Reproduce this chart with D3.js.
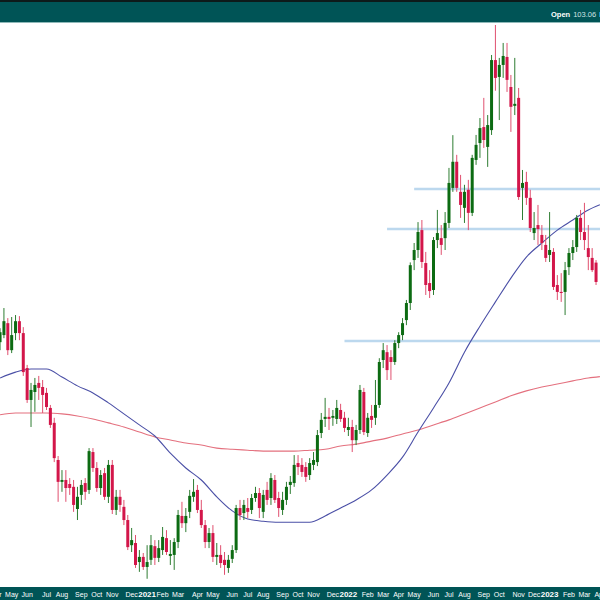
<!DOCTYPE html>
<html><head><meta charset="utf-8">
<script src="https://cdn.jsdelivr.net/npm/d3@7"></script>
<style>html,body{margin:0;padding:0;background:#fff;}svg{display:block;}</style>
</head><body>
<svg id="chart" width="600" height="600"></svg>
<script>
// Weekly candles, first week starting 2020-04-13
const firstWeek = "2020-04-13";
const opens = [99.41,99.73,100.27,99.05,99.82,100.36,99.82,98.25,96.84,97.19,97.59,97.41,97.15,96.49,95.84,94.24,93.31,93.39,93.22,93.10,92.17,92.76,93.26,92.97,94.58,93.90,93.05,93.68,92.68,94.03,92.13,92.68,92.26,91.71,90.67,90.76,89.98,90.19,89.78,90.07,90.63,90.15,90.47,90.96,90.23,90.27,90.80,91.88,91.58,92.05,92.68,92.97,92.13,91.50,90.80,91.17,90.19,90.27,90.07,89.74,90.11,90.47,92.21,92.00,92.21,92.13,92.63,92.84,92.05,92.97,92.63,93.39,92.63,92.13,92.55,93.18,93.26,94.11,94.03,93.94,93.60,94.03,94.15,95.40,96.01,96.10,96.06,96.01,96.40,96.06,95.53,95.66,95.09,95.53,97.19,95.40,96.14,96.06,96.62,98.61,98.96,98.74,98.52,99.37,99.73,100.41,101.19,103.18,103.65,104.59,103.04,102.11,101.79,104.12,104.21,104.21,104.93,106.61,107.88,106.42,105.65,106.52,105.41,107.97,108.80,109.59,108.61,109.44,112.97,112.11,112.72,113.13,111.60,110.65,111.05,106.61,106.90,106.13,104.45,104.83,104.36,103.89,103.42,103.56,102.02,101.70,101.70,102.85,103.51,103.79,105.17,104.50,103.74,103.28,103.06];
const highs = [100.04,100.96,100.50,100.55,100.64,100.59,100.09,98.39,97.59,97.81,97.90,97.72,97.37,96.62,96.06,94.41,93.81,93.81,93.47,93.39,93.10,93.39,93.47,94.75,94.75,94.15,93.81,93.90,94.24,94.24,92.97,92.97,92.55,91.92,91.38,91.09,90.47,90.35,90.67,91.09,90.88,90.88,91.42,91.29,90.88,90.96,92.13,92.47,92.21,92.97,93.43,93.18,92.55,91.71,91.38,91.50,90.76,90.67,90.39,90.27,90.67,92.34,92.55,92.55,92.63,92.80,93.10,93.05,92.97,93.31,93.68,93.60,92.89,92.89,93.31,93.56,94.45,94.45,94.32,94.15,94.32,94.58,95.53,96.27,96.93,96.49,96.40,96.84,96.67,96.32,96.06,95.97,95.75,97.50,97.37,96.27,96.62,97.72,98.69,99.37,99.28,99.05,99.50,99.86,100.50,101.33,103.07,103.98,104.97,105.07,103.56,102.71,104.26,105.55,104.83,105.45,107.58,109.19,108.22,107.24,106.76,107.00,108.22,109.20,110.04,111.05,110.19,113.23,114.78,113.08,113.85,113.85,112.21,113.08,111.55,107.48,107.39,106.52,105.45,105.79,104.83,104.36,105.45,103.74,102.48,102.57,103.09,103.74,104.12,105.31,105.55,105.89,104.83,103.74,103.18];
const lows = [99.05,99.59,98.83,98.92,99.50,99.50,97.90,96.71,95.66,96.32,96.84,96.27,96.40,95.62,94.15,92.47,92.89,92.47,92.76,92.05,91.71,92.34,92.55,92.80,93.73,92.89,92.76,92.55,92.42,91.96,91.92,92.05,91.50,90.47,90.39,89.74,89.58,89.66,89.30,89.86,89.86,89.98,90.27,90.27,89.86,89.66,90.55,91.38,91.21,91.79,92.47,92.00,91.38,90.55,90.55,89.98,89.86,89.74,89.46,89.54,89.94,90.35,91.71,91.71,91.79,91.96,92.47,91.79,91.79,92.34,92.34,92.42,91.84,91.92,92.34,92.80,93.10,93.60,93.52,93.31,93.39,93.81,93.98,95.18,95.66,95.53,95.71,95.79,95.88,95.44,95.27,94.58,94.88,95.36,95.31,95.23,95.62,95.75,96.49,98.25,97.72,97.72,98.39,99.14,99.50,100.18,100.87,102.71,103.28,102.81,101.56,101.42,101.56,103.74,103.42,103.65,104.69,106.42,106.42,105.17,104.93,104.59,105.26,107.73,108.07,108.56,107.63,109.20,111.41,109.94,112.06,111.35,109.35,110.19,106.03,105.07,105.79,104.50,104.12,103.89,103.65,103.09,103.09,101.79,101.33,101.24,100.64,102.48,103.18,103.56,104.12,103.65,102.71,102.62,102.02];
const closes = [99.86,100.36,99.05,99.73,100.36,99.82,98.07,96.84,97.28,97.50,97.37,97.06,96.53,95.75,94.32,93.31,93.39,93.05,93.05,92.34,92.68,93.18,92.89,94.62,93.90,93.05,93.60,92.68,94.03,92.13,92.68,92.34,91.71,90.59,90.88,89.86,90.19,89.78,89.98,90.67,90.15,90.55,91.01,90.39,90.31,90.80,91.92,91.58,91.88,92.72,92.89,92.13,91.50,90.80,91.17,90.19,90.27,89.94,89.86,90.07,90.47,92.21,91.92,92.34,92.05,92.63,92.84,92.21,92.76,92.55,93.47,92.55,92.21,92.55,93.10,93.31,94.03,93.94,93.73,93.52,94.11,94.24,95.31,95.97,96.10,96.01,96.14,96.49,96.01,95.62,95.66,95.09,95.53,97.28,95.44,96.06,95.97,96.62,98.52,99.05,98.16,98.52,99.37,99.73,100.27,101.19,102.94,103.65,104.50,103.09,102.02,101.74,104.12,104.45,103.89,104.93,106.85,107.88,106.61,105.79,106.42,105.41,108.07,108.71,109.54,108.95,109.69,112.97,112.06,112.72,113.18,111.96,110.60,110.75,106.17,106.85,106.13,104.69,104.69,104.64,103.98,103.28,103.65,101.93,101.70,101.65,102.71,103.51,103.79,105.17,104.50,104.12,103.32,102.71,102.16];

// Moving averages read at sampled week indices
const maWeeks = [0,4,8,12,16,20,24,28,32,36,40,44,48,52,56,60,64,68,72,76,80,84,88,92,96,100,104,108,112,116,120,124,128,132,136,140,144,148,152,155];
const maShort = [97.81,98.07,98.21,98.21,97.85,97.46,97.15,96.71,96.23,95.75,95.27,94.53,93.90,93.39,92.68,92.09,91.75,91.66,91.62,91.62,91.62,91.88,92.21,92.55,92.97,93.60,94.36,95.44,96.49,97.59,98.96,100.13,101.24,102.34,103.32,103.98,104.59,105.07,105.55,105.80];
const maLong = [96.19,96.27,96.27,96.27,96.23,96.14,96.01,95.84,95.66,95.44,95.23,95.10,94.97,94.88,94.75,94.70,94.66,94.62,94.62,94.62,94.66,94.70,94.84,94.92,95.05,95.18,95.36,95.53,95.75,95.97,96.23,96.49,96.75,97.02,97.24,97.41,97.54,97.68,97.81,97.87];

// Horizontal levels and the week they start at
const levelValues = [106.56, 104.64, 99.46];
const levelStartWeeks = [107, 100, 89];

// Month tick labels (first Monday of each month)
const tickMonths = ["2020-04","2020-05","2020-06","2020-07","2020-08","2020-09","2020-10","2020-11","2020-12","2021-01","2021-02","2021-03","2021-04","2021-05","2021-06","2021-07","2021-08","2021-09","2021-10","2021-11","2021-12","2022-01","2022-02","2022-03","2022-04","2022-05","2022-06","2022-07","2022-08","2022-09","2022-10","2022-11","2022-12","2023-01","2023-02","2023-03","2023-04"];
const tickLabels = ["Apr","May","Jun","Jul","Aug","Sep","Oct","Nov","Dec","2021","Feb","Mar","Apr","May","Jun","Jul","Aug","Sep","Oct","Nov","Dec","2022","Feb","Mar","Apr","May","Jun","Jul","Aug","Sep","Oct","Nov","Dec","2023","Feb","Mar","Apr"];

const headerLabel = "Open";
const headerValue = "103.06";

const svg = d3.select("#chart");
const W = 600, H = 600;
const n = opens.length;
const start = new Date(firstWeek + "T00:00:00Z");
const DAY = 86400000;

const x = d3.scaleLinear().domain([0, n - 1]).range([0.06, 0.06 + 3.87 * (n - 1)]);
const y = d3.scaleLog().domain([89.21, 114.78]).range([581, 25]);

const GREEN = "#0c6b12", RED = "#d3164a";
const bodyW = 3;

const plot = svg.append("g");
svg.append("defs").append("clipPath").attr("id","clip")
  .append("rect").attr("x",0).attr("y",23).attr("width",W).attr("height",564);
plot.attr("clip-path","url(#clip)");

// levels
plot.selectAll(".lvl").data(levelValues).enter().append("line")
  .attr("x1", (d,i) => x(levelStartWeeks[i]))
  .attr("x2", W)
  .attr("y1", d => y(d)).attr("y2", d => y(d))
  .attr("stroke", "#bcd8ee").attr("stroke-width", 2.5);

// MA lines
const maLine = vals => d3.line()
  .x((d,i) => x(maWeeks[i])).y(d => y(d)).curve(d3.curveMonotoneX)(vals);
plot.append("path").attr("d", maLine(maLong)).attr("fill","none")
  .attr("stroke","#e4707e").attr("stroke-width",1.1);
plot.append("path").attr("d", maLine(maShort)).attr("fill","none")
  .attr("stroke","#4a4fa6").attr("stroke-width",1.1);

// candles
const idx = d3.range(n);
const g = plot.append("g");
g.selectAll(".wick").data(idx).enter().append("line")
  .attr("x1", i => x(i)).attr("x2", i => x(i))
  .attr("y1", i => y(highs[i])).attr("y2", i => y(lows[i]))
  .attr("stroke", i => closes[i] >= opens[i] ? "#2e7d32" : "#e0506f")
  .attr("stroke-width", 1);
g.selectAll(".body").data(idx).enter().append("rect")
  .attr("x", i => x(i) - bodyW/2)
  .attr("width", bodyW)
  .attr("y", i => y(Math.max(opens[i], closes[i])))
  .attr("height", i => Math.max(1, Math.abs(y(opens[i]) - y(closes[i]))))
  .attr("fill", i => closes[i] >= opens[i] ? GREEN : RED);

// header bar
svg.append("rect").attr("x",0).attr("y",0).attr("width",W).attr("height",22).attr("fill","#005456");
svg.append("rect").attr("x",0).attr("y",0).attr("width",W).attr("height",2).attr("fill","#0d1a1a");
svg.append("rect").attr("x",0).attr("y",22).attr("width",W).attr("height",1).attr("fill","#8fb9b9");
const ht = svg.append("text").attr("x",551).attr("y",17)
  .attr("font-family","Liberation Sans, Arial, sans-serif").attr("font-size",7.5).attr("fill","#fff");
ht.append("tspan").attr("font-weight","bold").text(headerLabel);
ht.append("tspan").attr("dx",3).attr("fill","#cfe2e2").text(headerValue);
ht.append("tspan").attr("dx",3).attr("font-weight","bold").text("H");

// bottom axis bar
svg.append("rect").attr("x",0).attr("y",587).attr("width",W).attr("height",13).attr("fill","#005456");
const tickIdx = tickMonths.map(m => {
  const d0 = new Date(m + "-01T00:00:00Z");
  const dow = d0.getUTCDay();
  const add = (8 - dow) % 7;
  const firstMon = new Date(d0.getTime() + add * DAY);
  return Math.round((firstMon - start) / (7 * DAY));
});
svg.selectAll(".tick").data(tickLabels).enter().append("text")
  .attr("x", (d,i) => x(tickIdx[i]))
  .attr("y", 597)
  .attr("text-anchor","middle")
  .attr("font-family","Liberation Sans, Arial, sans-serif")
  .attr("font-size", d => /^\d{4}$/.test(d) ? 8 : 7)
  .attr("font-weight", d => /^\d{4}$/.test(d) ? "bold" : "normal")
  .attr("fill","#ffffff")
  .text(d => d);
</script>
</body></html>
